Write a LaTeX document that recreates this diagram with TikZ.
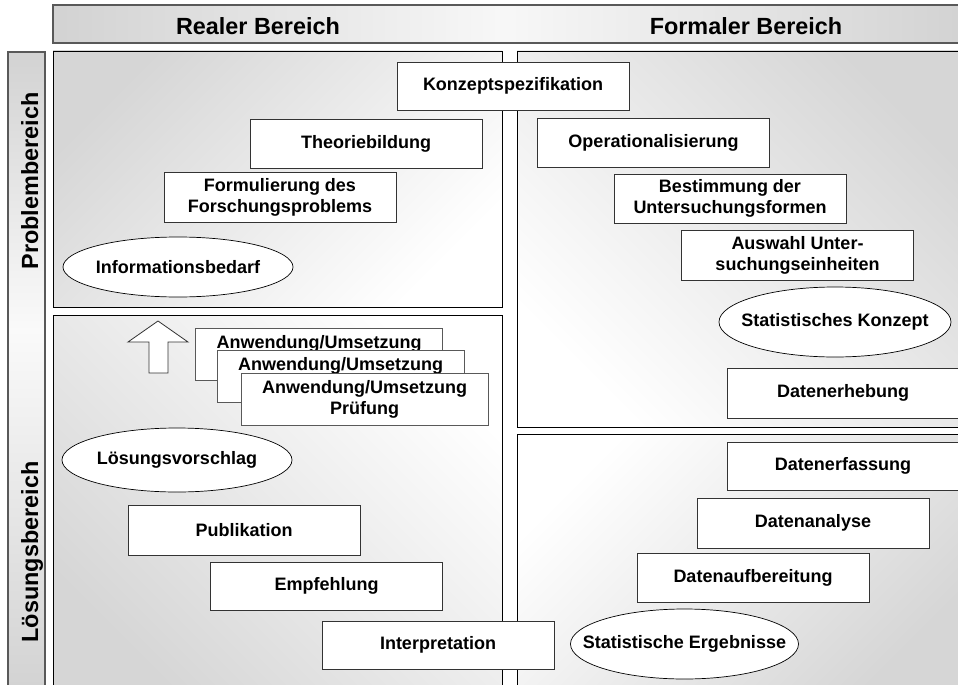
\documentclass[tikz,border=0pt]{standalone}
\usepackage{fontspec}
\setmainfont{Liberation Sans}
\usetikzlibrary{shapes.geometric}
\begin{document}
\begin{tikzpicture}[x=1pt,y=-1pt,
  box/.style={draw=black!80, line width=0.8pt, fill=white, minimum width=232pt,
    minimum height=49pt, inner sep=2pt, align=center,
    font=\fontsize{18}{21}\selectfont\bfseries},
  stackbox/.style={box, draw=black!65, minimum width=247pt, minimum height=52pt},
  oval/.style={ellipse, draw=black, line width=0.7pt, fill=white,
    inner xsep=-40pt, inner ysep=-8pt,
    font=\fontsize{18}{21}\selectfont\bfseries},
  quad/.style={draw=black, line width=0.9pt},
  bar/.style={draw=black!65, line width=1.2pt},
  bartext/.style={font=\fontsize{23.4}{26}\selectfont\bfseries, anchor=base, inner sep=0pt}
]
\useasboundingbox (0,0) rectangle (958,685);
\clip (0,0) rectangle (958,685);

% four shaded areas
\path[quad, top color=gray!32, bottom color=white, shading angle=45] (53,51) rectangle (502,307);
\path[quad, top color=white, bottom color=gray!32, shading angle=-45] (53,315) rectangle (502,692);
\path[quad, top color=gray!32, bottom color=white, shading angle=-45] (517,51) rectangle (965,427);
\path[quad, top color=white, bottom color=gray!32, shading angle=45] (517,434) rectangle (965,692);

% column header
\path[left color=gray!35, right color=gray!6] (53,5) rectangle (505,43);
\path[left color=gray!6, right color=gray!35] (505,5) rectangle (965,43);
\draw[bar] (53,5) rectangle (965,43);
\node[bartext] (real) at (258,35) {Realer Bereich};
\node[bartext] (formal) at (746,35) {Formaler Bereich};

% row header
\path[top color=gray!35, bottom color=gray!4] (8,52) rectangle (45,330);
\path[top color=gray!4, bottom color=gray!35] (8,330) rectangle (45,692);
\draw[bar] (8,52) rectangle (45,692);
\node[bartext, rotate=90] (problem) at (38,181) {Problembereich};
\node[bartext, rotate=90] (loesung) at (38,552) {Lösungsbereich};

% upper left
\node[box] (theorie) at (366,143.5) {Theoriebildung};
\node[box, minimum height=50pt] (formul) at (280,197) {Formulierung des\\Forschungsproblems};
\node[oval, minimum width=230pt, minimum height=60pt] (info) at (178,267) {Informationsbedarf};

% lower left: arrow and the stacked cards
\draw[fill=white, draw=black!80, line width=0.8pt]
  (158,321) -- (188,342) -- (168,342) -- (168,373) -- (149,373) -- (149,342) -- (128,342) -- cycle;
\node[stackbox] (anw1) at (319,354) {Anwendung/Umsetzung\\\phantom{Prüfung}};
\node[stackbox] (anw2) at (340.5,376.5) {Anwendung/Umsetzung\\\phantom{Prüfung}};
\node[stackbox] (anw3) at (364.5,399) {Anwendung/Umsetzung\\Prüfung};
\node[oval, minimum width=230pt, minimum height=64pt] (vorschlag) at (177,460) {Lösungsvorschlag};
\node[box, minimum height=50pt] (publ) at (244,530) {Publikation};
\node[box, minimum height=48pt] (empf) at (326.5,586) {Empfehlung};
\node[box, minimum height=48pt] (interp) at (438,645) {Interpretation};

% upper right
\node[box, minimum height=48pt] (konzept) at (513,86) {Konzeptspezifikation};
\node[box] (oper) at (653.5,142.5) {Operationalisierung};
\node[box] (bestimm) at (730,198.5) {Bestimmung der\\Untersuchungsformen};
\node[box, minimum height=50pt] (auswahl) at (797.5,255) {Auswahl Unter-\\suchungseinheiten};
\node[oval, minimum width=232pt, minimum height=70pt] (statk) at (835,322) {Statistisches Konzept};
\node[box, minimum height=50pt] (erheb) at (843,393) {Datenerhebung};

% lower right
\node[box, minimum height=48pt] (erfass) at (843,466) {Datenerfassung};
\node[box, minimum height=50pt] (analyse) at (813,523) {Datenanalyse};
\node[box] (aufb) at (753,577.5) {Datenaufbereitung};
\node[oval, minimum width=228pt, minimum height=70pt] (staterg) at (684.5,644) {Statistische Ergebnisse};
\end{tikzpicture}
\end{document}
